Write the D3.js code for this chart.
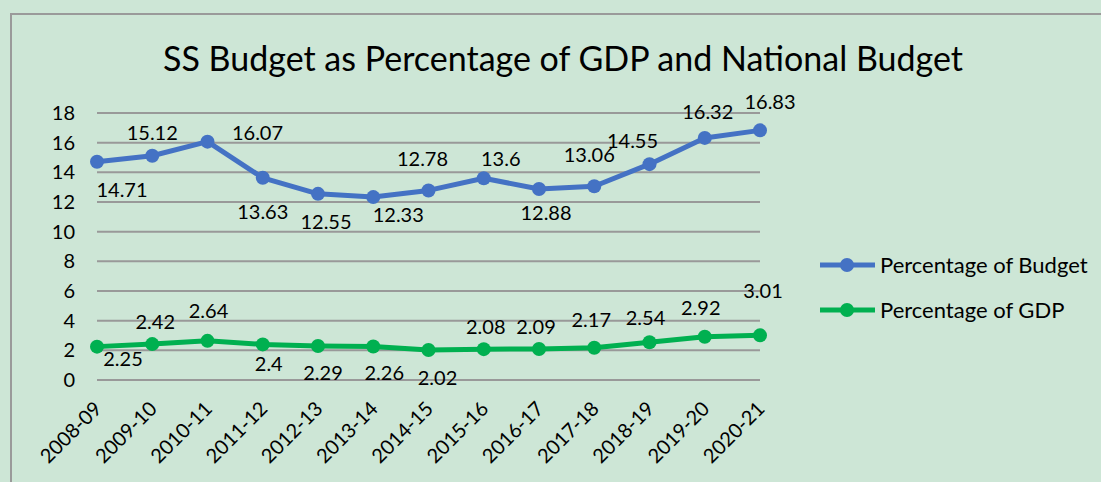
<!DOCTYPE html>
<html>
<head>
<meta charset="utf-8">
<script src="https://cdn.jsdelivr.net/npm/d3@7"></script>
<style>
  body { margin: 0; background: #cde6d6; }
  text { font-family: Lato, "Open Sans", sans-serif; fill: #000; }
</style>
</head>
<body>
<div id="chart"></div>
<script>
const years = ['2008-09', '2009-10', '2010-11', '2011-12', '2012-13', '2013-14', '2014-15',
  '2015-16', '2016-17', '2017-18', '2018-19', '2019-20', '2020-21'];
const budgetPct = [14.71, 15.12, 16.07, 13.63, 12.55, 12.33, 12.78, 13.6, 12.88, 13.06, 14.55, 16.32, 16.83];
const gdpPct = [2.25, 2.42, 2.64, 2.4, 2.29, 2.26, 2.02, 2.08, 2.09, 2.17, 2.54, 2.92, 3.01];
const yTicks = [0, 2, 4, 6, 8, 10, 12, 14, 16, 18];
const seriesNames = ['Percentage of Budget', 'Percentage of GDP'];

// where excel put the data labels, relative to the point (px)
const budgetLabelDx = [25, 0, 50, 0, 8, 25, -6, 17, 7, -5, -17, 3, 10];
const budgetLabelDy = [28, -23, -9, 34, 28, 18, -31, -19, 24, -31, -23, -26, -28];
const gdpLabelDx = [26, 3, 1, 6, 5, 11, 9, 2, -3, -3, -4, -4, 3];
const gdpLabelDy = [12, -22, -30, 20, 27, 27, 28, -22, -22, -28, -24, -29, -44];

let width = 1101, height = 482;
let margin = { top: 113, left: 97, right: 341, bottom: 102 };

let svg = d3.select('#chart').append('svg')
  .attr('width', width)
  .attr('height', height);

svg.append('rect')
  .attr('width', width).attr('height', height)
  .attr('fill', '#cde6d6');

// outer chart frame (runs off the right and bottom edges)
svg.append('path')
  .attr('d', 'M11,' + height + 'V14H' + width)
  .attr('fill', 'none')
  .attr('stroke', '#9a9a9a')
  .attr('stroke-width', 2);

svg.append('text')
  .text('SS Budget as Percentage of GDP and National Budget')
  .attr('x', 563)
  .attr('y', 71)
  .attr('text-anchor', 'middle')
  .style('font-size', '34px');

let x = d3.scalePoint().domain(years).range([margin.left, width - margin.right]);
let y = d3.scaleLinear().domain([0, 18]).range([height - margin.bottom, margin.top]);

let g = svg.append('g');

g.selectAll('.grid')
  .data(yTicks)
  .enter().append('line')
  .attr('x1', margin.left)
  .attr('x2', width - margin.right)
  .attr('y1', d => y(d))
  .attr('y2', d => y(d))
  .attr('stroke', '#999')
  .attr('stroke-width', 2);

g.selectAll('.ytick')
  .data(yTicks)
  .enter().append('text')
  .text(d => d)
  .attr('x', 75)
  .attr('y', d => y(d))
  .attr('dy', '0.35em')
  .attr('text-anchor', 'end')
  .style('font-size', '20px');

g.selectAll('.xtick')
  .data(years)
  .enter().append('text')
  .text(d => d)
  .attr('text-anchor', 'end')
  .attr('transform', d => 'translate(' + (x(d) + 6) + ',' + 410 + ') rotate(-45)')
  .style('font-size', '20px');

function drawSeries(values, color, dxs, dys) {
  let pts = values.map((v, i) => ({ year: years[i], v: v, dx: dxs[i], dy: dys[i] }));
  let line = d3.line().x(d => x(d.year)).y(d => y(d.v));

  g.append('path')
    .datum(pts)
    .attr('d', line)
    .attr('fill', 'none')
    .attr('stroke', color)
    .attr('stroke-width', 5)
    .attr('stroke-linejoin', 'round');

  g.selectAll(null)
    .data(pts)
    .enter().append('circle')
    .attr('cx', d => x(d.year))
    .attr('cy', d => y(d.v))
    .attr('r', 7)
    .attr('fill', color);

  g.selectAll(null)
    .data(pts)
    .enter().append('text')
    .text(d => d.v)
    .attr('x', d => x(d.year) + d.dx)
    .attr('y', d => y(d.v) + d.dy)
    .attr('dy', '0.35em')
    .attr('text-anchor', 'middle')
    .style('font-size', '20px');
}

drawSeries(budgetPct, '#4472c4', budgetLabelDx, budgetLabelDy);
drawSeries(gdpPct, '#00b050', gdpLabelDx, gdpLabelDy);

// legend
let colors = ['#4472c4', '#00b050'];
let legend = svg.selectAll('.legend')
  .data(seriesNames)
  .enter().append('g')
  .attr('transform', (d, i) => 'translate(820,' + (265 + i * 45) + ')');

legend.append('line')
  .attr('x1', 0).attr('x2', 55)
  .attr('stroke', (d, i) => colors[i])
  .attr('stroke-width', 5);

legend.append('circle')
  .attr('cx', 27).attr('r', 7)
  .attr('fill', (d, i) => colors[i]);

legend.append('text')
  .text(d => d)
  .attr('x', 60)
  .attr('dy', '0.35em')
  .style('font-size', '22px');
</script>
</body>
</html>
